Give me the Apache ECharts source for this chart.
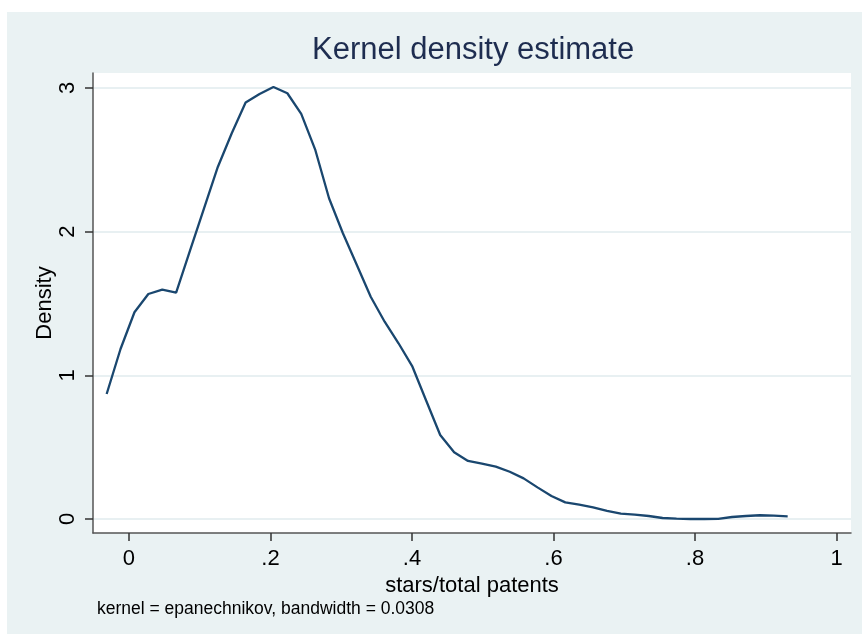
<!DOCTYPE html>
<html lang="en">
	<head>
		<meta charset="utf-8">
		<title>Kernel density estimate</title>
	</head>
	<style type="text/css">
		* {
			margin: 0;
			padding: 0;
		}

		body {
			background: #fff;
		}

		#chart-container {
			position: absolute;
			left: 7px;
			top: 12px;
			width: 855px;
			height: 622px;
			overflow: hidden;
		}
	</style>
	<body>
		<div id="chart-container"></div>
		<script src="https://fastly.jsdelivr.net/npm/echarts@6.0.0/dist/echarts.min.js"></script>
	</body>
	<script type="text/javascript">
		// evaluation points of the density (50 points, stata default)
		var xValues = [
			-0.0315, -0.0119, 0.0078, 0.0274, 0.0471, 0.0667, 0.0864, 0.1060, 0.1256, 0.1453,
			0.1649, 0.1846, 0.2042, 0.2239, 0.2435, 0.2631, 0.2828, 0.3024, 0.3221, 0.3417,
			0.3614, 0.3810, 0.4007, 0.4203, 0.4399, 0.4596, 0.4792, 0.4989, 0.5185, 0.5382,
			0.5578, 0.5774, 0.5971, 0.6167, 0.6364, 0.6560, 0.6757, 0.6953, 0.7149, 0.7346,
			0.7542, 0.7739, 0.7935, 0.8132, 0.8328, 0.8524, 0.8721, 0.8917, 0.9114, 0.9310
		];
		var densityValues = [
			0.870, 1.183, 1.439, 1.566, 1.596, 1.575, 1.870, 2.160, 2.450, 2.685,
			2.898, 2.958, 3.007, 2.963, 2.819, 2.573, 2.232, 1.989, 1.768, 1.547,
			1.373, 1.223, 1.060, 0.821, 0.585, 0.464, 0.404, 0.385, 0.364, 0.329,
			0.283, 0.220, 0.160, 0.116, 0.100, 0.081, 0.056, 0.037, 0.030, 0.021,
			0.007, 0.002, 0.000, 0.000, 0.001, 0.014, 0.021, 0.026, 0.023, 0.019
		];
		var xTickValues = [0, 0.2, 0.4, 0.6, 0.8, 1];
		var xTickLabels = ['0', '.2', '.4', '.6', '.8', '1'];
		var yTickValues = [0, 1, 2, 3];
		var yTickLabels = ['0', '1', '2', '3'];

		var dom = document.getElementById('chart-container');
		var myChart = echarts.init(dom, null, {
			renderer: 'canvas'
		});

		var FONT = '"Liberation Sans", Arial, sans-serif';

		function pickLabel(values, labels, v) {
			for (var i = 0; i < values.length; i++) {
				if (Math.abs(values[i] - v) < 1e-6) return labels[i];
			}
			return '';
		}

		var seriesData = xValues.map(function(x, i) {
			return [x, densityValues[i]];
		});

		var option = {
			backgroundColor: '#eaf2f3',
			animation: false,
			title: [{
					text: 'Kernel density estimate',
					left: 305,
					top: 23,
					padding: 0,
					textStyle: {
						fontFamily: FONT,
						fontSize: 31,
						fontWeight: 'normal',
						color: '#1e2d50'
					}
				},
				{
					text: 'kernel = epanechnikov, bandwidth = 0.0308',
					left: 90,
					top: 588,
					padding: 0,
					textStyle: {
						fontFamily: FONT,
						fontSize: 17.5,
						fontWeight: 'normal',
						color: '#000'
					}
				}
			],
			grid: {
				left: 86,
				top: 61,
				right: 11,
				bottom: 101,
				show: true,
				backgroundColor: '#fff',
				borderWidth: 0
			},
			xAxis: {
				type: 'value',
				min: -0.0508,
				max: 1.0205,
				name: 'stars/total patents',
				nameLocation: 'middle',
				nameGap: 37,
				nameTextStyle: {
					fontFamily: FONT,
					fontSize: 22,
					color: '#000'
				},
				axisLine: {
					onZero: false,
					lineStyle: {
						color: '#555',
						width: 1.5
					}
				},
				axisTick: {
					show: true,
					length: 8,
					customValues: xTickValues,
					lineStyle: {
						color: '#333',
						width: 1.5
					}
				},
				axisLabel: {
					customValues: xTickValues,
					margin: 15,
					fontFamily: FONT,
					fontSize: 22,
					color: '#000',
					formatter: function(v) {
						return pickLabel(xTickValues, xTickLabels, v);
					}
				},
				splitLine: {
					show: false
				}
			},
			yAxis: {
				type: 'value',
				min: -0.0974,
				max: 3.104,
				name: 'Density',
				nameLocation: 'middle',
				nameGap: 37,
				nameMoveOverlap: false,
				nameTextStyle: {
					fontFamily: FONT,
					fontSize: 22,
					color: '#000'
				},
				axisLine: {
					show: true,
					onZero: false,
					lineStyle: {
						color: '#555',
						width: 1.5
					}
				},
				axisTick: {
					show: true,
					length: 8,
					customValues: yTickValues,
					lineStyle: {
						color: '#333',
						width: 1.5
					}
				},
				axisLabel: {
					customValues: yTickValues,
					rotate: 90,
					margin: 14,
					fontFamily: FONT,
					fontSize: 22,
					color: '#000',
					formatter: function(v) {
						return pickLabel(yTickValues, yTickLabels, v);
					}
				},
				splitLine: {
					show: true,
					lineStyle: {
						color: '#e8f0f2',
						width: 2
					}
				}
			},
			series: [{
				name: 'density',
				type: 'line',
				showSymbol: false,
				symbol: 'none',
				lineStyle: {
					color: '#1a476f',
					width: 2.3
				},
				data: seriesData
			}]
		};

		if (option && typeof option === 'object') {
			myChart.setOption(option);
		}

		window.addEventListener('resize', myChart.resize);
	</script>
</html>
